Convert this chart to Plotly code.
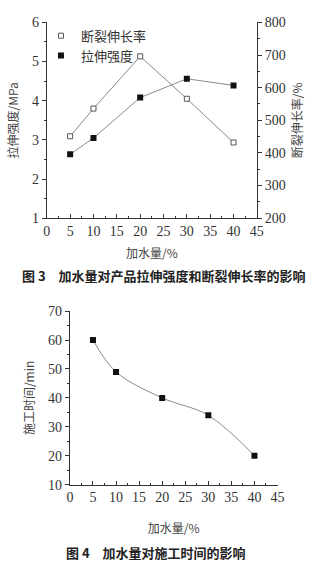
import plotly.graph_objects as go

# Figure 3 data
water = [5, 10, 20, 30, 40]
tensile = [2.63, 3.05, 4.08, 4.56, 4.39]          # MPa, left axis
elongation = [451, 536, 696, 566, 432]             # %, right axis
# Figure 4 data
water2 = [5, 10, 20, 30, 40]
work_time = [60, 49, 40, 34, 20]                   # min

x_ticks = [0, 5, 10, 15, 20, 25, 30, 35, 40, 45]

SERIF = "Liberation Serif, DejaVu Serif, serif"
CJK = "Noto Sans CJK SC"
GRAY = "#8a8a8a"

fig = go.Figure()

# Figure 3: elongation (right axis)
fig.add_trace(go.Scatter(x=water, y=elongation, mode="lines", line=dict(color=GRAY, width=1),
                         xaxis="x", yaxis="y2", showlegend=False, hoverinfo="skip"))
fig.add_trace(go.Scatter(x=water, y=elongation, mode="markers", name="断裂伸长率",
                         marker=dict(symbol="square", size=5, color="white", line=dict(color="#555", width=1)),
                         xaxis="x", yaxis="y2"))
# Figure 3: tensile strength (left axis)
fig.add_trace(go.Scatter(x=water, y=tensile, mode="lines", line=dict(color=GRAY, width=1),
                         xaxis="x", yaxis="y", showlegend=False, hoverinfo="skip"))
fig.add_trace(go.Scatter(x=water, y=tensile, mode="markers", name="拉伸强度",
                         marker=dict(symbol="square", size=6, color="#111"),
                         xaxis="x", yaxis="y"))
# Figure 4: work time
fig.add_trace(go.Scatter(x=water2, y=work_time, mode="lines+markers",
                         line=dict(color=GRAY, width=1, shape="spline", smoothing=1),
                         marker=dict(symbol="square", size=6, color="#111"),
                         xaxis="x3", yaxis="y3", showlegend=False))

axis_common = dict(showline=True, linecolor="#333", linewidth=1, showgrid=False, zeroline=False,
                   tickfont=dict(family=SERIF, size=14, color="#333"), ticklen=4, tickcolor="#333")

fig.update_layout(
    width=319, height=565, margin=dict(l=0, r=0, t=0, b=0),
    paper_bgcolor="white", plot_bgcolor="white",
    showlegend=True,
    legend=dict(x=0.12, y=0.975, xanchor="left", yanchor="top", bgcolor="rgba(0,0,0,0)",
                font=dict(family=CJK, size=13, color="#333"), itemwidth=30, tracegroupgap=0,
                traceorder="normal"),
    xaxis=dict(domain=[0.139, 0.821], range=[0, 45], tickvals=x_ticks, ticks="inside",
               minor=dict(ticks="inside", dtick=2.5, ticklen=2, tickcolor="#333"),
               anchor="y", title=dict(text="加水量/%", font=dict(family=CJK, size=12, color="#444"), standoff=11),
               **axis_common),
    yaxis=dict(domain=[0.616, 0.972], range=[1, 6], dtick=1, ticks="outside",
               minor=dict(ticks="outside", dtick=0.5, ticklen=2, tickcolor="#333"),
               anchor="x", title=dict(text="拉伸强度/MPa", font=dict(family=CJK, size=12, color="#444"), standoff=10),
               **axis_common),
    yaxis2=dict(range=[200, 800], dtick=100, ticks="outside", side="right", overlaying="y",
                minor=dict(ticks="outside", dtick=50, ticklen=2, tickcolor="#333"),
                anchor="x", title=dict(text="断裂伸长率/%", font=dict(family=CJK, size=12, color="#444"), standoff=8),
                **axis_common),
    xaxis3=dict(domain=[0.214, 0.888], range=[0, 45], tickvals=x_ticks, ticks="inside",
                minor=dict(ticks="inside", dtick=2.5, ticklen=2, tickcolor="#333"),
                anchor="y3", title=dict(text="加水量/%", font=dict(family=CJK, size=12, color="#444"), standoff=20),
                **axis_common),
    yaxis3=dict(domain=[0.1315, 0.447], range=[10, 70], dtick=10, ticks="outside",
                minor=dict(ticks="outside", dtick=5, ticklen=2, tickcolor="#333"),
                anchor="x3", title=dict(text="施工时间/min", font=dict(family=CJK, size=12, color="#444"), standoff=10),
                **axis_common),
    annotations=[
        dict(text="<b>图 3　加水量对产品拉伸强度和断裂伸长率的影响</b>", x=0.52, y=1 - 276 / 565,
             xref="paper", yref="paper", yanchor="middle", showarrow=False,
             font=dict(family=CJK, size=13, color="#222")),
        dict(text="<b>图 4　加水量对施工时间的影响</b>", x=0.495, y=1 - 560 / 565,
             xref="paper", yref="paper", yanchor="middle", showarrow=False,
             font=dict(family=CJK, size=13, color="#222")),
    ],
)

fig.write_html("out.html")
